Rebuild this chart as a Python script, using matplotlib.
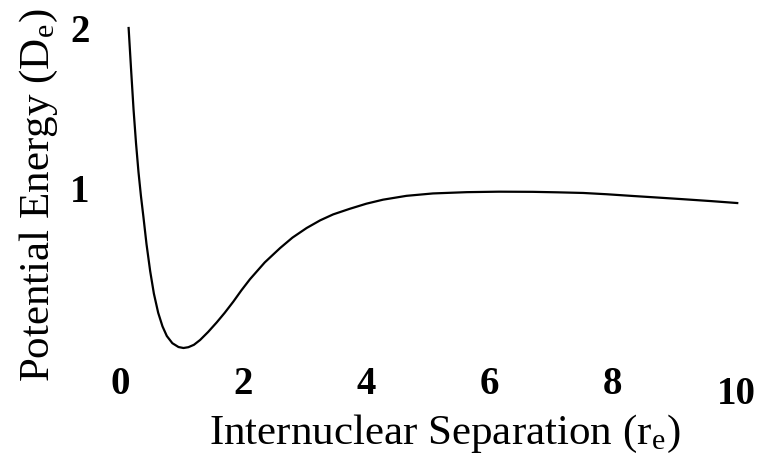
import numpy as np
import matplotlib.pyplot as plt
import matplotlib.transforms as mtransforms

# values (r in units of r_e, V in units of D_e)
r = [0.14, 0.18, 0.22, 0.26, 0.30, 0.34, 0.38, 0.43, 0.49, 0.55, 0.62, 0.69, 0.76,
     0.85, 0.95, 1.03, 1.11, 1.20, 1.30, 1.43, 1.57, 1.70, 1.84, 1.97, 2.11, 2.35,
     2.60, 2.80, 3.03, 3.25, 3.46, 3.73, 4.00, 4.27, 4.65, 5.08, 5.63, 6.15, 6.70,
     7.10, 7.52, 7.90, 8.33, 8.70, 9.14, 9.60, 10.02]
V = [2.00, 1.74, 1.49, 1.28, 1.10, 0.95, 0.82, 0.65, 0.48, 0.34, 0.22, 0.135, 0.075,
     0.03, 0.006, 0.0, 0.005, 0.02, 0.05, 0.10, 0.16, 0.22, 0.29, 0.36, 0.43, 0.535,
     0.625, 0.69, 0.75, 0.798, 0.835, 0.87, 0.902, 0.927, 0.951, 0.966, 0.974, 0.977, 0.976,
     0.973, 0.969, 0.961, 0.95, 0.941, 0.93, 0.918, 0.906]

xticks = [0, 2, 4, 6, 8, 10]
yticks = [1, 2]

plt.rcParams['font.family'] = ['Liberation Serif', 'DejaVu Serif']
plt.rcParams['mathtext.fontset'] = 'stix'

fig = plt.figure(figsize=(7.78, 4.71), dpi=100)
ax = fig.add_axes([120/778, 1 - 348/471, 616/778, 320/471])

ax.plot(r, V, color='black', linewidth=1.6, clip_on=False)
ax.set_xlim(0, 10)
ax.set_ylim(0, 2)

for s in ax.spines.values():
    s.set_visible(False)

ax.set_xticks(xticks)
ax.set_xticklabels([str(t) for t in xticks], fontsize=28, fontweight='bold')
ax.set_yticks(yticks)
ax.set_yticklabels([str(t) for t in yticks], fontsize=28, fontweight='bold')
ax.tick_params(axis='both', length=0)
ax.tick_params(axis='x', pad=13)
ax.tick_params(axis='y', pad=22)

# the "10" sits a little lower in the original
lab10 = ax.get_xticklabels()[-1]
lab10.set_transform(lab10.get_transform() +
                    mtransforms.ScaledTranslation(0, -7/72, fig.dpi_scale_trans))

ax.set_xlabel('Internuclear Separation (r$_\\mathregular{e}$)', fontsize=31, labelpad=0)
ax.xaxis.label.set_x(0.528)
ax.set_ylabel('Potential Energy (D$_\\mathregular{e}$)', fontsize=31, labelpad=7)
ax.yaxis.label.set_y(0.48)

fig.savefig('out.png', dpi=100)
